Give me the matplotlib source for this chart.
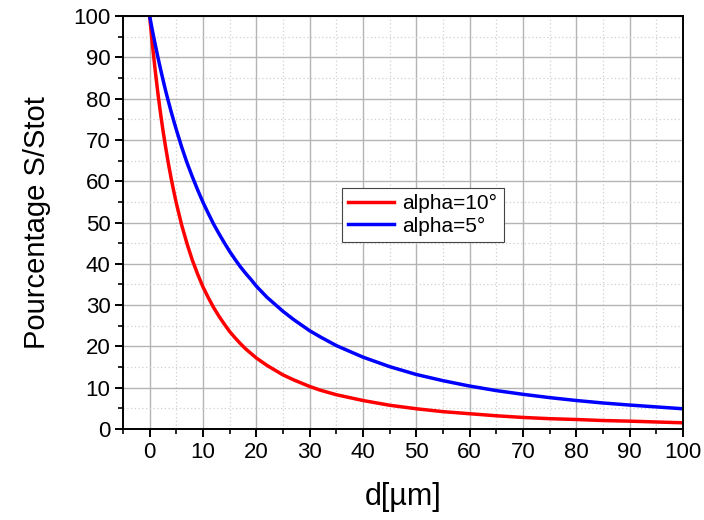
import matplotlib
matplotlib.use("Agg")
import matplotlib.pyplot as plt
from matplotlib.ticker import MultipleLocator

plt.rcParams['font.family'] = ['Liberation Sans', 'DejaVu Sans']

# values
d = [0, 0.5, 1, 1.5, 2, 2.5, 3, 3.5, 4, 4.5, 5, 6, 7, 8, 9, 10, 11, 12, 13, 14,
     15, 16, 17, 18, 19, 20, 22, 25, 27, 30, 32, 35, 40, 45, 50, 55, 60, 65, 70,
     75, 80, 85, 90, 95, 100]
alpha10 = [100, 93.3, 87.3, 81.8, 76.8, 72.3, 68.2, 64.4, 60.9, 57.7, 54.7, 49.4,
           44.9, 40.9, 37.5, 34.4, 31.8, 29.4, 27.3, 25.4, 23.6, 22.1, 20.7, 19.4,
           18.3, 17.2, 15.4, 13.1, 11.9, 10.3, 9.4, 8.3, 6.9, 5.75, 4.9, 4.2, 3.7,
           3.2, 2.8, 2.5, 2.3, 2.05, 1.9, 1.7, 1.5]
alpha5 = [100, 96.6, 93.4, 90.3, 87.4, 84.6, 81.9, 79.4, 77.0, 74.7, 72.5, 68.3,
          64.5, 61.1, 57.9, 54.9, 52.2, 49.6, 47.3, 45.1, 43.0, 41.1, 39.3, 37.7,
          36.2, 34.6, 31.9, 28.5, 26.5, 23.8, 22.3, 20.2, 17.4, 15.1, 13.2, 11.7,
          10.4, 9.3, 8.4, 7.6, 6.9, 6.3, 5.8, 5.35, 4.9]
labels = ["alpha=10°", "alpha=5°"]

fig = plt.figure(figsize=(7.04, 5.2), dpi=100)
ax = fig.add_axes([0.1747, 0.175, 0.7955, 0.794])

ax.plot(d, alpha10, color="#ff0000", lw=2.5, label=labels[0])
ax.plot(d, alpha5, color="#0000ff", lw=2.5, label=labels[1])

ax.set_xlim(-5, 100)
ax.set_ylim(0, 100)
ax.xaxis.set_major_locator(MultipleLocator(10))
ax.xaxis.set_minor_locator(MultipleLocator(5))
ax.yaxis.set_major_locator(MultipleLocator(10))
ax.yaxis.set_minor_locator(MultipleLocator(5))

ax.grid(which="major", color="#b4b4b4", lw=1.0, ls="-")
ax.grid(which="minor", color="#d0d0d0", lw=0.9, ls=(0, (1, 2)))
ax.set_axisbelow(True)

for s in ax.spines.values():
    s.set_linewidth(1.4)
ax.tick_params(which="major", direction="out", length=6, width=1.4, labelsize=16,
               pad=3, top=False, right=False)
ax.tick_params(which="minor", direction="out", length=3.5, width=1.2,
               top=False, right=False)

ax.set_xlabel("d[µm]", fontsize=22, labelpad=14)
ax.set_ylabel("Pourcentage S/Stot", fontsize=21, labelpad=16)

leg = ax.legend(loc="upper left", bbox_to_anchor=(0.391, 0.5835), fontsize=15,
                fancybox=False, framealpha=1, edgecolor="#444444",
                handlelength=2.2, borderpad=0.3, labelspacing=0.15,
                handletextpad=0.4, borderaxespad=0)
leg.get_frame().set_linewidth(0.8)

fig.savefig("out.png", dpi=100)
